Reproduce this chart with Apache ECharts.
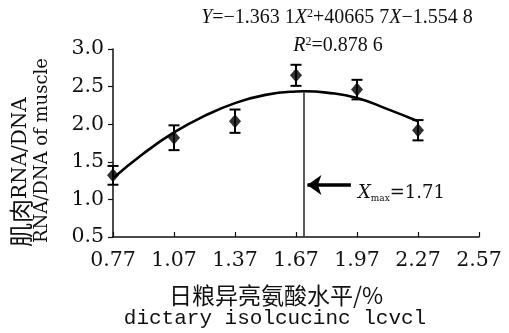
<!DOCTYPE html>
<html>
<head>
<meta charset="utf-8">
<script src="https://cdn.jsdelivr.net/npm/echarts@6/dist/echarts.min.js"></script>
<style>
  html, body { margin: 0; padding: 0; background: #fff; }
  #chart { width: 509px; height: 333px; }
</style>
</head>
<body>
<div id="chart"></div>
<script>
// Dietary isoleucine level (%) and muscle RNA/DNA ratio, mean ± SE
const isoLevels   = [0.77, 1.07, 1.37, 1.67, 1.97, 2.27];
const ratioMeans  = [1.32, 1.82, 2.04, 2.65, 2.46, 1.92];
const ratioErrors = [0.125, 0.165, 0.155, 0.14, 0.13, 0.135];

// Fitted quadratic curve sampled over the tested range
const fitX = [0.77, 0.92, 1.07, 1.22, 1.37, 1.52, 1.67, 1.71, 1.82, 1.97, 2.12, 2.27];
const fitY = [1.28, 1.61, 1.89, 2.11, 2.28, 2.39, 2.435, 2.438, 2.42, 2.35, 2.20, 2.04];

// Optimum level and the fitted value there
const optimumX = 1.71;
const optimumY = 2.438;

// Axis ticks
const xTicks = [0.77, 1.07, 1.37, 1.67, 1.97, 2.27, 2.57];
const yMin = 0.5, yMax = 3.0, yStep = 0.5;

const SERIF = 'DejaVu Serif';
const TIMES = 'Liberation Serif';
const CJK = 'Noto Sans CJK SC';
const INK = '#111';

const chart = echarts.init(document.getElementById('chart'), null, { renderer: 'canvas' });

const points = isoLevels.map((x, i) => [x, ratioMeans[i]]);
const errorBars = isoLevels.map((x, i) => [x, ratioMeans[i] - ratioErrors[i], ratioMeans[i] + ratioErrors[i]]);
const fitLine = fitX.map((x, i) => [x, fitY[i]]);

chart.setOption({
  animation: false,
  backgroundColor: '#fff',
  grid: { left: 113, right: 30, top: 49, bottom: 96 },
  xAxis: {
    type: 'value',
    min: xTicks[0],
    max: xTicks[xTicks.length - 1],
    axisLine: { show: true, lineStyle: { color: INK, width: 1.5 } },
    axisTick: { show: true, inside: true, length: 5, customValues: xTicks, lineStyle: { color: INK, width: 1.2 } },
    axisLabel: {
      customValues: xTicks,
      formatter: v => v.toFixed(2),
      fontFamily: SERIF, fontSize: 20.5, color: INK, margin: 13
    },
    splitLine: { show: false }
  },
  yAxis: {
    type: 'value',
    min: yMin, max: yMax, interval: yStep,
    axisLine: { show: true, lineStyle: { color: INK, width: 1.5 } },
    axisTick: { show: true, inside: false, length: 5, lineStyle: { color: INK, width: 1.2 } },
    axisLabel: {
      formatter: v => v.toFixed(1),
      fontFamily: SERIF, fontSize: 20.5, color: INK, margin: 9
    },
    splitLine: { show: false }
  },
  series: [
    {
      name: 'fit',
      type: 'line',
      data: fitLine,
      smooth: true,
      showSymbol: false,
      lineStyle: { color: '#000', width: 2.6 },
      z: 3,
      markLine: {
        silent: true,
        symbol: 'none',
        label: { show: false },
        data: [
          [
            { coord: [optimumX, optimumY], lineStyle: { color: '#333', width: 1.6, type: 'solid' } },
            { coord: [optimumX, yMin] }
          ],
          [
            { coord: [1.94, 1.19], symbol: 'none', lineStyle: { color: '#000', width: 3.5, type: 'solid' } },
            { coord: [1.726, 1.19], symbol: 'arrow', symbolSize: [15, 14] }
          ]
        ]
      }
    },
    {
      name: 'se',
      type: 'custom',
      data: errorBars,
      z: 4,
      renderItem: function (params, api) {
        const x = api.value(0);
        const lo = api.coord([x, api.value(1)]);
        const hi = api.coord([x, api.value(2)]);
        const half = 5.5;
        const style = { stroke: '#000', lineWidth: 2 };
        return {
          type: 'group',
          children: [
            { type: 'line', shape: { x1: lo[0], y1: lo[1], x2: hi[0], y2: hi[1] }, style },
            { type: 'line', shape: { x1: lo[0] - half, y1: lo[1], x2: lo[0] + half, y2: lo[1] }, style },
            { type: 'line', shape: { x1: hi[0] - half, y1: hi[1], x2: hi[0] + half, y2: hi[1] }, style }
          ]
        };
      }
    },
    {
      name: 'mean',
      type: 'scatter',
      data: points,
      symbol: 'diamond',
      symbolSize: [12, 14],
      itemStyle: { color: '#000' },
      z: 5
    }
  ],
  graphic: [
    {
      type: 'text', x: 337, y: 18,
      style: {
        text: '{i|Y}=−1.363 1{i|X}{sup|2}+40665 7{i|X}−1.554 8',
        fontFamily: TIMES, fontSize: 20, fill: INK,
        align: 'center', verticalAlign: 'middle',
        rich: {
          i: { fontFamily: TIMES, fontStyle: 'italic', fontSize: 20, fill: INK },
          sup: { fontFamily: TIMES, fontSize: 12, fill: INK, padding: [0, 0, 9, 0] }
        }
      }
    },
    {
      type: 'text', x: 338, y: 46,
      style: {
        text: '{i|R}{sup|2}=0.878 6',
        fontFamily: TIMES, fontSize: 20, fill: INK,
        align: 'center', verticalAlign: 'middle',
        rich: {
          i: { fontFamily: TIMES, fontStyle: 'italic', fontSize: 20, fill: INK },
          sup: { fontFamily: TIMES, fontSize: 12, fill: INK, padding: [0, 0, 9, 0] }
        }
      }
    },
    {
      type: 'text', x: 358, y: 193,
      style: {
        text: '{i|X}{sub|max}=1.71',
        fontFamily: SERIF, fontSize: 18, fill: INK,
        align: 'left', verticalAlign: 'middle',
        rich: {
          i: { fontFamily: SERIF, fontStyle: 'italic', fontSize: 18, fill: INK },
          sub: { fontFamily: SERIF, fontSize: 9, fill: INK, padding: [12, 0, 0, 0] }
        }
      }
    },
    {
      type: 'text', x: 21, y: 247, rotation: Math.PI / 2,
      style: {
        text: '{c|肌肉}{l|RNA/DNA}',
        align: 'left', verticalAlign: 'middle', fill: INK,
        rich: {
          c: { fontFamily: CJK, fontSize: 24, fill: INK },
          l: { fontFamily: SERIF, fontSize: 20, fill: INK }
        }
      }
    },
    {
      type: 'text', x: 42, y: 243, rotation: Math.PI / 2,
      style: {
        text: 'RNA/DNA of muscle',
        fontFamily: SERIF, fontSize: 18, fill: INK,
        align: 'left', verticalAlign: 'middle'
      }
    },
    {
      type: 'text', x: 276, y: 295,
      style: {
        text: '日粮异亮氨酸水平/%',
        fontFamily: CJK, fontSize: 23, fill: INK,
        align: 'center', verticalAlign: 'middle'
      }
    },
    {
      type: 'text', x: 275, y: 318,
      style: {
        text: 'dictary isolcucinc lcvcl',
        fontFamily: 'Liberation Mono', fontSize: 21, fill: INK,
        align: 'center', verticalAlign: 'middle'
      }
    }
  ]
});
</script>
</body>
</html>
